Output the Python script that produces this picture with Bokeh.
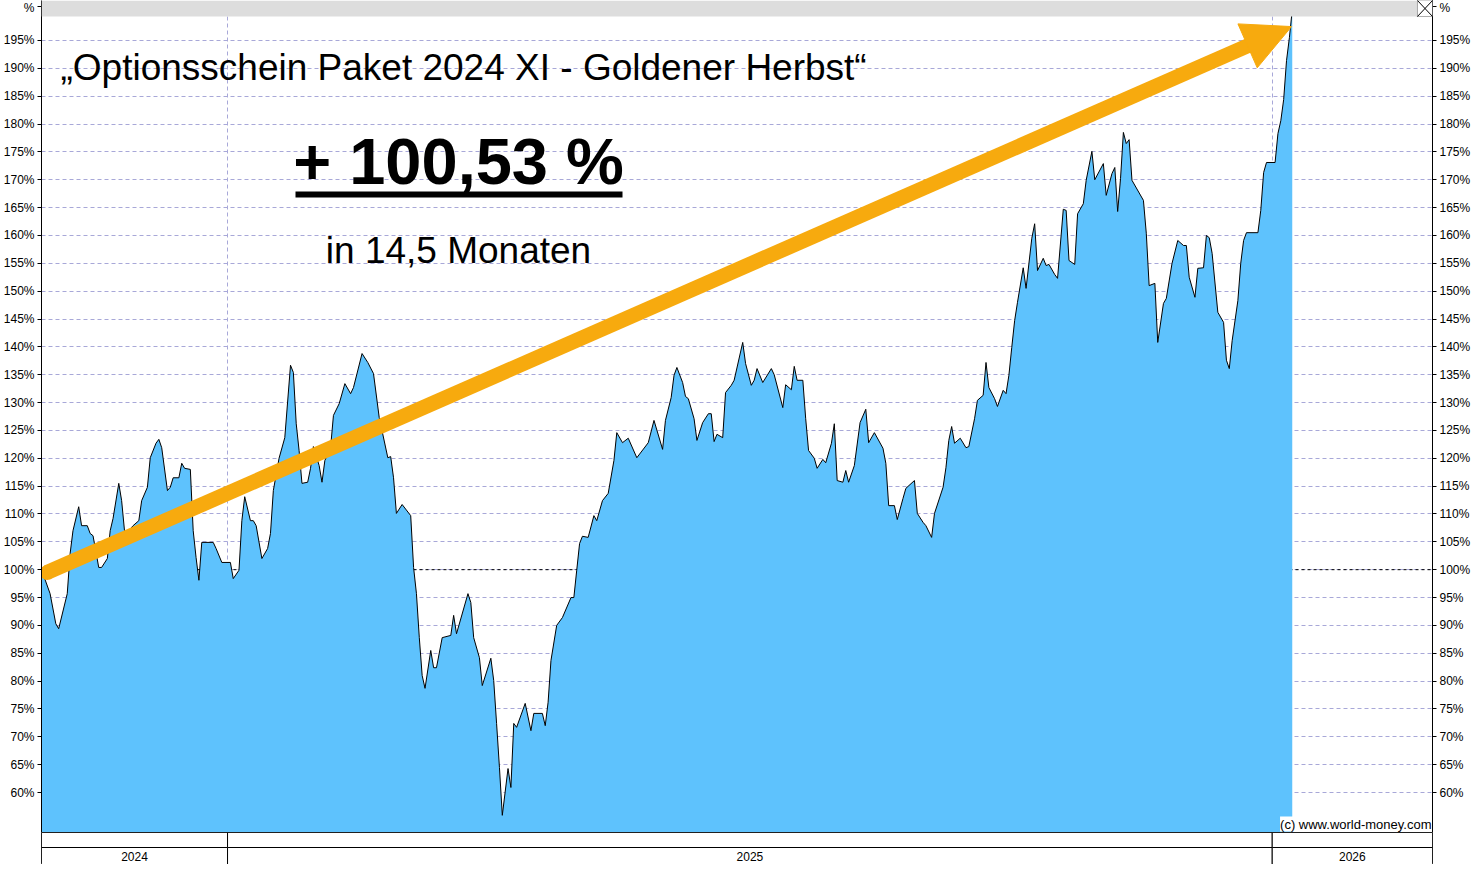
import pandas as pd
from bokeh.plotting import figure
from bokeh.layouts import column
from bokeh.models import (Range1d, FixedTicker, LinearAxis, CustomJSTickFormatter, Span,
                          BoxAnnotation, Label, Arrow, NormalHead, ColumnDataSource)
from bokeh.core.properties import value
from bokeh.embed import file_html
from bokeh.resources import INLINE

# ---------------- data ----------------
dates = [
    "2024-10-28", "2024-10-31", "2024-11-02", "2024-11-03", "2024-11-06", "2024-11-07", "2024-11-08",
    "2024-11-10", "2024-11-11", "2024-11-13", "2024-11-14", "2024-11-15", "2024-11-17", "2024-11-18",
    "2024-11-20", "2024-11-21", "2024-11-22", "2024-11-24", "2024-11-25", "2024-11-26", "2024-11-27",
    "2024-11-29", "2024-12-01", "2024-12-02", "2024-12-04", "2024-12-05", "2024-12-07", "2024-12-08",
    "2024-12-09", "2024-12-11", "2024-12-12", "2024-12-13", "2024-12-15", "2024-12-16", "2024-12-17",
    "2024-12-19", "2024-12-20", "2024-12-21", "2024-12-22", "2024-12-23", "2024-12-27", "2024-12-28",
    "2024-12-30", "2025-01-02", "2025-01-03", "2025-01-05", "2025-01-06", "2025-01-07", "2025-01-09",
    "2025-01-10", "2025-01-11", "2025-01-13", "2025-01-15", "2025-01-16", "2025-01-17", "2025-01-19",
    "2025-01-21", "2025-01-23", "2025-01-24", "2025-01-25", "2025-01-26", "2025-01-27", "2025-01-29",
    "2025-01-30", "2025-01-31", "2025-02-02", "2025-02-03", "2025-02-04", "2025-02-06", "2025-02-07",
    "2025-02-09", "2025-02-11", "2025-02-13", "2025-02-14", "2025-02-17", "2025-02-19", "2025-02-21",
    "2025-02-23", "2025-02-26", "2025-02-27", "2025-02-28", "2025-03-01", "2025-03-03", "2025-03-06",
    "2025-03-07", "2025-03-08", "2025-03-09", "2025-03-10", "2025-03-11", "2025-03-13", "2025-03-14",
    "2025-03-15", "2025-03-17", "2025-03-20", "2025-03-21", "2025-03-22", "2025-03-26", "2025-03-27",
    "2025-03-28", "2025-03-30", "2025-03-31", "2025-04-03", "2025-04-04", "2025-04-05", "2025-04-06",
    "2025-04-07", "2025-04-09", "2025-04-10", "2025-04-11", "2025-04-12", "2025-04-15", "2025-04-17",
    "2025-04-18", "2025-04-21", "2025-04-22", "2025-04-23", "2025-04-24", "2025-04-26", "2025-04-28",
    "2025-05-01", "2025-05-02", "2025-05-03", "2025-05-04", "2025-05-05", "2025-05-07", "2025-05-09",
    "2025-05-10", "2025-05-12", "2025-05-14", "2025-05-16", "2025-05-17", "2025-05-19", "2025-05-21",
    "2025-05-24", "2025-05-28", "2025-05-30", "2025-06-02", "2025-06-03", "2025-06-05", "2025-06-06",
    "2025-06-07", "2025-06-09", "2025-06-10", "2025-06-11", "2025-06-13", "2025-06-14", "2025-06-16",
    "2025-06-18", "2025-06-19", "2025-06-20", "2025-06-21", "2025-06-23", "2025-06-24", "2025-06-26",
    "2025-06-27", "2025-06-30", "2025-07-01", "2025-07-03", "2025-07-04", "2025-07-05", "2025-07-07",
    "2025-07-10", "2025-07-11", "2025-07-14", "2025-07-15", "2025-07-17", "2025-07-18", "2025-07-19",
    "2025-07-21", "2025-07-22", "2025-07-23", "2025-07-25", "2025-07-26", "2025-07-28", "2025-07-29",
    "2025-07-31", "2025-08-01", "2025-08-02", "2025-08-04", "2025-08-05", "2025-08-06", "2025-08-08",
    "2025-08-10", "2025-08-12", "2025-08-13", "2025-08-15", "2025-08-18", "2025-08-19", "2025-08-20",
    "2025-08-22", "2025-08-23", "2025-08-25", "2025-08-26", "2025-08-29", "2025-08-30", "2025-09-01",
    "2025-09-02", "2025-09-04", "2025-09-05", "2025-09-08", "2025-09-09", "2025-09-10", "2025-09-11",
    "2025-09-12", "2025-09-14", "2025-09-16", "2025-09-17", "2025-09-19", "2025-09-20", "2025-09-22",
    "2025-09-23", "2025-09-24", "2025-09-26", "2025-09-27", "2025-09-29", "2025-09-30", "2025-10-01",
    "2025-10-02", "2025-10-03", "2025-10-04", "2025-10-06", "2025-10-07", "2025-10-09", "2025-10-10",
    "2025-10-11", "2025-10-13", "2025-10-14", "2025-10-15", "2025-10-17", "2025-10-18", "2025-10-20",
    "2025-10-21", "2025-10-22", "2025-10-24", "2025-10-25", "2025-10-27", "2025-10-28", "2025-10-30",
    "2025-10-31", "2025-11-03", "2025-11-04", "2025-11-06", "2025-11-07", "2025-11-08", "2025-11-09",
    "2025-11-10", "2025-11-11", "2025-11-12", "2025-11-13", "2025-11-17", "2025-11-18", "2025-11-19",
    "2025-11-21", "2025-11-22", "2025-11-24", "2025-11-25", "2025-11-27", "2025-11-29", "2025-12-01",
    "2025-12-02", "2025-12-03", "2025-12-05", "2025-12-06", "2025-12-08", "2025-12-09", "2025-12-10",
    "2025-12-11", "2025-12-13", "2025-12-15", "2025-12-16", "2025-12-17", "2025-12-18", "2025-12-20",
    "2025-12-21", "2025-12-22", "2025-12-23", "2025-12-27", "2025-12-28", "2025-12-29", "2025-12-30",
    "2026-01-02", "2026-01-03", "2026-01-04", "2026-01-05", "2026-01-06", "2026-01-07", "2026-01-08",
]
values = [
    100.0, 95.7, 90.3, 89.4, 95.7, 102.9, 107.0,
    111.3, 107.9, 107.9, 106.5, 106.1, 100.4, 100.4,
    102.0, 107.0, 109.2, 115.5, 112.4, 107.0, 106.7,
    107.9, 108.8, 112.4, 114.8, 120.1, 122.7, 123.4,
    121.9, 114.2, 114.8, 116.5, 116.5, 119.1, 118.2,
    118.0, 107.0, 102.2, 98.1, 104.9, 104.9, 103.8,
    101.3, 101.3, 98.4, 99.9, 108.8, 113.1, 108.8,
    108.8, 107.9, 102.0, 103.8, 106.5, 114.2, 120.0,
    123.7, 136.7, 135.4, 126.2, 121.4, 115.5, 115.7,
    118.2, 122.1, 118.7, 115.7, 119.6, 121.9, 127.7,
    129.8, 133.4, 131.6, 132.7, 138.8, 137.2, 135.2,
    127.3, 120.1, 120.3, 116.5, 110.1, 111.7, 109.7,
    100.4, 95.7, 87.8, 81.0, 78.7, 85.5, 82.4,
    82.4, 87.8, 88.2, 91.8, 88.5, 95.7, 94.1,
    87.8, 84.2, 79.2, 84.1, 80.1, 72.4, 64.5,
    55.9, 64.3, 60.9, 72.4, 71.7, 76.0, 71.1,
    74.2, 74.2, 72.0, 76.2, 83.7, 90.0, 91.4,
    95.0, 95.0, 99.9, 104.7, 106.0, 105.8, 109.7,
    108.8, 112.4, 113.7, 119.6, 124.6, 122.8, 123.6,
    120.1, 122.8, 126.8, 121.6, 126.8, 130.9, 134.9,
    136.3, 133.6, 131.1, 130.7, 127.1, 123.2, 126.4,
    128.0, 128.0, 123.0, 124.3, 123.7, 131.8, 133.1,
    134.0, 140.8, 137.0, 133.1, 134.0, 136.1, 133.6,
    136.1, 135.0, 129.1, 133.2, 132.3, 136.5, 134.0,
    134.0, 127.1, 121.4, 120.0, 118.2, 119.8, 119.2,
    122.7, 126.2, 116.0, 115.7, 117.8, 115.7, 118.7,
    126.4, 128.8, 122.8, 124.6, 121.8, 119.1, 111.5,
    111.5, 109.0, 112.8, 114.6, 116.0, 110.1, 108.5,
    107.9, 105.8, 110.1, 114.8, 118.3, 123.2, 125.7,
    122.7, 123.6, 121.9, 122.1, 127.1, 130.4, 131.3,
    137.2, 132.7, 130.7, 129.3, 132.2, 131.6, 134.9,
    139.9, 144.7, 148.0, 154.2, 150.5, 159.5, 162.1,
    153.7, 155.9, 154.6, 154.8, 153.0, 152.3, 164.7,
    164.5, 155.5, 154.8, 163.9, 165.7, 169.9, 175.1,
    170.0, 172.9, 167.2, 171.1, 172.2, 164.3, 170.2,
    178.5, 176.5, 177.2, 169.9, 166.3, 160.4, 151.0,
    151.4, 140.8, 147.8, 148.7, 155.0, 159.1, 158.2,
    158.2, 152.5, 148.9, 154.1, 154.2, 160.0, 159.6,
    156.8, 146.2, 144.4, 137.6, 136.1, 141.1, 148.3,
    155.0, 159.1, 160.5, 160.5, 164.5, 171.3, 173.1,
    173.1, 178.3, 180.6, 184.4, 191.4, 195.5, 200.53,
]
years = ["2024", "2025", "2026"]
y_ticks = list(range(60, 200, 5))
title_text = "\u201eOptionsschein Paket 2024 XI - Goldener Herbst\u201c"
gain_text = "+ 100,53 %"
period_text = "in 14,5 Monaten"
credit_text = "(c) www.world-money.com"
x_start, x_end = "2024-10-28", "2026-02-26"
y_min, band_bottom, y_max = 52.82, 199.31, 202.18
arrow_from = ("2024-10-30", 99.5)
arrow_to = ("2026-01-07 18:00", 197.5)

# ---------------- styling / layout ----------------
W, H_MAIN, H_BAND = 1475, 832, 32
BL, BR = 41, 43
FW, FH = W - BL - BR, H_MAIN
FILL = "#5EC2FD"
ORANGE = "#F7AA0E"
GRID = "#A8A8D8"
FONT = "Liberation Sans"
PCT_POS = 201.1          # where the "%" unit sits on both axes
BASE_FIX = 0.36          # baseline correction (fraction of font size)


def ms(s):
    return pd.Timestamp(s).value / 1e6


x0, x1 = ms(x_start), ms(x_end)

p = figure(width=W, height=H_MAIN, x_range=Range1d(x0, x1), y_range=Range1d(y_min, y_max),
           x_axis_location=None, y_axis_location="left",
           output_backend="svg", toolbar_location=None,
           min_border_left=BL, min_border_right=BR, min_border_top=0, min_border_bottom=0,
           outline_line_color=None, background_fill_color="white", border_fill_color="white")

# axes
ax_r = LinearAxis()
p.add_layout(ax_r, "right")
fmt_code = "return tick > 199 ? '%' : tick.toFixed(0) + '%';"
for ax in (p.yaxis[0], ax_r):
    ax.ticker = FixedTicker(ticks=y_ticks + [PCT_POS], minor_ticks=[])
    ax.formatter = CustomJSTickFormatter(code=fmt_code)
    ax.major_tick_out = 4
    ax.major_tick_in = 0
    ax.minor_tick_out = 0
    ax.minor_tick_in = 0
    ax.axis_line_color = "black"
    ax.major_tick_line_color = "black"
    ax.major_label_text_font = FONT
    ax.major_label_text_font_size = "12px"
    ax.major_label_text_color = "black"
    ax.major_label_standoff = 3

# grids
p.ygrid.ticker = FixedTicker(ticks=y_ticks, minor_ticks=[])
p.xgrid.ticker = FixedTicker(ticks=[ms(f"{y}-01-01") for y in years[1:]], minor_ticks=[])
for g in (p.xgrid, p.ygrid):
    g.grid_line_color = GRID
    g.grid_line_dash = "4 3"
    g.grid_line_width = 1
p.add_layout(Span(location=100, dimension="width", line_color="black",
                  line_dash="3 3", line_width=1, level="underlay"))

# series
src = ColumnDataSource(dict(date=pd.to_datetime(dates), value=values))
p.varea(x="date", y1=y_min, y2="value", source=src, fill_color=FILL)
p.line(x="date", y="value", source=src, line_color="black", line_width=1)

# top grey band with the little box
p.add_layout(BoxAnnotation(bottom=band_bottom, fill_color="#DDDDDD", fill_alpha=1, line_color=None))
xb = x1 - 5.25 * 86400000
p.add_layout(BoxAnnotation(left=xb, bottom=band_bottom, fill_color="white", fill_alpha=1,
                           line_color="black", line_width=1))
p.segment(x0=[xb, xb], y0=[band_bottom, y_max], x1=[x1, x1], y1=[y_max, band_bottom],
          line_color="black", line_width=1, level="overlay")

# arrow: round-capped shaft + triangular head
ax0, ay0 = ms(arrow_from[0]), arrow_from[1]
ax1, ay1 = ms(arrow_to[0]), arrow_to[1]
f = 0.985
sx_end, sy_end = ax0 + f * (ax1 - ax0), ay0 + f * (ay1 - ay0)
p.scatter(x=[ax0], y=[ay0], marker="circle", size=15, fill_color=ORANGE, line_color=None)
p.add_layout(Arrow(x_start=ax0, y_start=ay0, x_end=sx_end, y_end=sy_end, end=None,
                   line_color=ORANGE, line_width=15, line_cap="butt"))
p.add_layout(Arrow(x_start=sx_end, y_start=sy_end, x_end=ax1, y_end=ay1,
                   line_color=ORANGE, line_alpha=0, line_width=1,
                   end=NormalHead(size=48, fill_color=ORANGE, line_color=ORANGE, line_width=1)))


# texts (positions in reference pixels, converted to frame-relative screen units)
def label(text, rx, base_ry, size, align, bold=False):
    p.add_layout(Label(x=rx - BL, y=FH - base_ry + BASE_FIX * size, x_units="screen", y_units="screen",
                       text=text, text_font=FONT, text_font_size=f"{size}px",
                       text_font_style="bold" if bold else "normal", text_color="black",
                       text_align=align, text_baseline="alphabetic"))


label(title_text, 60, 80, 37, "left")
label(gain_text, 458, 184, 65, "center", bold=True)
label(period_text, 458, 263, 37, "center")
p.add_layout(BoxAnnotation(left=295 - BL, right=622 - BL, top=FH - 191, bottom=FH - 197,
                           left_units="screen", right_units="screen",
                           top_units="screen", bottom_units="screen",
                           fill_color="black", fill_alpha=1, line_color=None))
p.add_layout(Label(x=FW - 1, y=1, x_units="screen", y_units="screen", text=credit_text,
                   text_font=FONT, text_font_size="13px", text_color="black",
                   text_align="right", text_baseline="bottom",
                   background_fill_color="white", background_fill_alpha=1))

# ---------------- year band ----------------
band = figure(width=W, height=H_BAND, x_range=p.x_range, y_range=Range1d(0, H_BAND),
              x_axis_location=None, y_axis_location=None,
              output_backend="svg", toolbar_location=None,
              min_border_left=BL, min_border_right=BR, min_border_top=0, min_border_bottom=0,
              outline_line_color="black", background_fill_color="white", border_fill_color="white")
band.xgrid.visible = False
band.ygrid.visible = False
starts = [max(ms(f"{y}-01-01"), x0) for y in years]
ends = [min(ms(f"{int(y) + 1}-01-01"), x1) for y in years]
mids = [(a + b) / 2 for a, b in zip(starts, ends)]
band.quad(left=starts * 2, right=ends * 2,
          bottom=[0] * 3 + [17] * 3, top=[17] * 3 + [H_BAND] * 3,
          fill_color="white", line_color="black", line_width=1)
band.text(x=mids, y=[8.5] * 3, text=years, text_font=value(FONT), text_font_size="12px",
          text_color="black", text_align="center", text_baseline="middle")

layout = column(p, band)
open("out.html", "w").write(file_html(layout, INLINE))
